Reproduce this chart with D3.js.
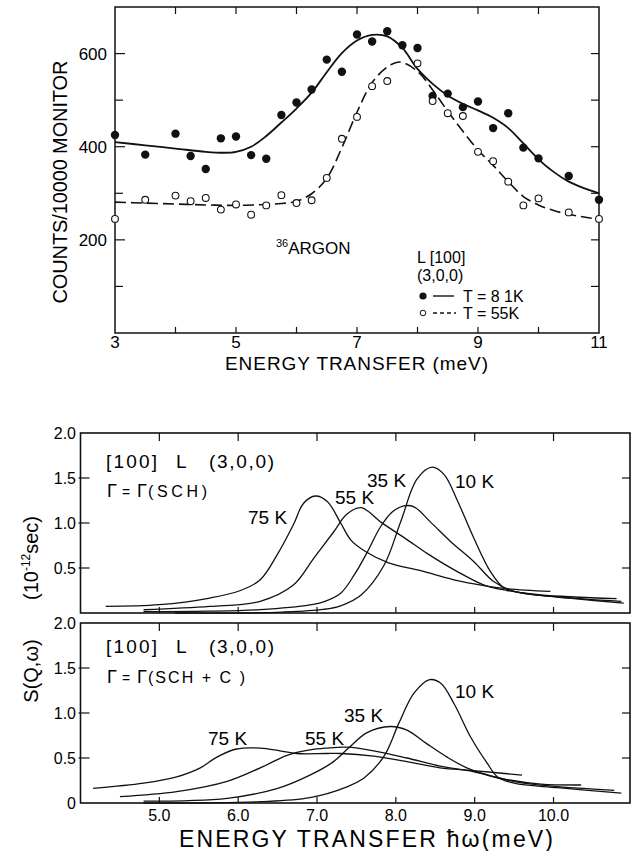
<!DOCTYPE html>
<html>
<head>
<meta charset="utf-8">
<script src="https://cdn.jsdelivr.net/npm/d3@7"></script>
<style>
  body { margin: 0; background: #fff; }
  svg { display: block; font-family: "Liberation Sans", Arial, sans-serif; }
</style>
</head>
<body>
<div id="chart"></div>
<script>
// ---- top chart: 36Ar, L[100] (3,0,0) ----
const energy81 = [3.0,3.5,4.0,4.25,4.5,4.75,5.0,5.25,5.5,5.75,6.0,6.25,6.5,6.75,7.0,7.25,7.5,7.75,8.0,8.25,8.5,8.75,9.0,9.25,9.5,9.75,10.0,10.5,11.0];
const counts81 = [425,383,428,380,352,418,422,382,374,468,495,523,587,561,641,626,648,618,612,509,514,485,497,440,472,398,375,337,286];
const energy55 = [3.0,3.5,4.0,4.25,4.5,4.75,5.0,5.25,5.5,5.75,6.0,6.25,6.5,6.75,7.0,7.25,7.5,8.0,8.25,8.5,8.75,9.0,9.25,9.5,9.75,10.0,10.5,11.0];
const counts55 = [245,286,295,283,290,265,276,254,274,296,279,285,333,417,464,530,541,579,498,472,466,389,369,325,274,289,259,245];

const fitE81 = [3.0,3.5,4.0,4.5,4.8,5.0,5.25,5.5,5.75,6.0,6.25,6.5,6.75,7.0,7.25,7.5,7.75,8.0,8.25,8.5,8.75,9.0,9.25,9.5,9.75,10.0,10.25,10.5,10.75,11.0];
const fit81  = [410,403,396,389,387,389,400,423,452,482,516,560,601,628,640,637,612,567,535,510,492,478,462,440,407,373,346,325,311,300];
const fitE55 = [3.0,3.5,4.0,4.5,5.0,5.5,5.75,6.0,6.25,6.5,6.75,7.0,7.25,7.5,7.65,7.75,8.0,8.25,8.5,8.75,9.0,9.25,9.5,9.75,10.0,10.25,10.5,10.75,11.0];
const fit55  = [281,279,277,275,274,276,278,283,299,332,398,474,538,571,581,581,562,522,476,433,393,360,325,293,275,263,255,249,244];

const topYTicks = [200,400,600];
const topXTicks = [3,5,7,9,11];

// ---- bottom panels: S(Q,w) calculated, [100] L (3,0,0) ----
const tempLabels = ["75 K","55 K","35 K","10 K"];
// Gamma = Gamma(SCH)
const sch75E = [4.32,5.0,5.64,6.03,6.28,6.49,6.70,6.83,6.98,7.13,7.30,7.43,7.62,7.9,8.36,8.78,9.08,9.41,9.96];
const sch75  = [0.073,0.092,0.166,0.25,0.37,0.64,0.98,1.22,1.30,1.24,1.0,0.81,0.68,0.56,0.46,0.36,0.31,0.27,0.24];
const sch55E = [4.8,5.64,6.28,6.70,6.96,7.21,7.38,7.56,7.81,8.15,8.40,8.78,9.12,9.41,9.84,10.8];
const sch55  = [0.036,0.073,0.13,0.31,0.61,0.90,1.10,1.17,1.01,0.81,0.66,0.46,0.31,0.25,0.20,0.16];
const sch35E = [4.8,5.6,6.28,6.91,7.1,7.3,7.47,7.64,7.8,7.95,8.1,8.23,8.44,8.70,8.99,9.24,9.5,10.05,10.86];
const sch35  = [0.015,0.02,0.037,0.09,0.13,0.22,0.42,0.68,0.95,1.12,1.19,1.18,1.01,0.79,0.57,0.35,0.24,0.18,0.13];
const sch10E = [5.2,6.0,6.56,7.08,7.3,7.56,7.85,8.06,8.27,8.46,8.61,8.78,8.99,9.2,9.37,9.62,10.26,10.89];
const sch10  = [0.0,0.0,0.01,0.04,0.08,0.20,0.53,1.01,1.49,1.62,1.54,1.25,0.83,0.46,0.28,0.22,0.16,0.11];
// Gamma = Gamma(SCH+C)
const c75E = [4.16,4.8,5.22,5.52,5.73,5.98,6.28,6.53,6.74,7.12,7.3,7.72,8.14,8.56,8.98,9.6];
const c75  = [0.163,0.22,0.29,0.39,0.51,0.60,0.61,0.58,0.55,0.55,0.55,0.52,0.46,0.39,0.36,0.31];
const c55E = [4.5,5.22,5.86,6.28,6.62,6.91,7.12,7.38,7.72,8.14,8.56,8.98,9.41,9.84,10.35];
const c55  = [0.07,0.126,0.24,0.39,0.53,0.59,0.61,0.62,0.58,0.50,0.41,0.35,0.26,0.21,0.20];
const c35E = [4.8,5.86,6.49,6.91,7.21,7.4,7.63,7.93,8.14,8.39,8.65,8.9,9.2,9.62,10.77];
const c35  = [0.02,0.052,0.16,0.31,0.46,0.61,0.78,0.85,0.81,0.66,0.51,0.39,0.30,0.22,0.14];
const c10E = [4.8,6.28,6.91,7.38,7.6,7.85,8.04,8.23,8.43,8.57,8.74,8.95,9.16,9.29,9.5,10.05,10.86];
const c10  = [0.0,0.015,0.06,0.18,0.28,0.52,0.89,1.22,1.37,1.33,1.10,0.73,0.44,0.29,0.22,0.17,0.11];

const botXTicks = [5,6,7,8,9,10];
const botYTicks = [0.5,1.0,1.5,2.0];

const svg = d3.select("#chart").append("svg")
    .attr("width", 632).attr("height", 851)
    .attr("viewBox", "0 0 632 851");

const zip = (xs, ys) => xs.map((x, i) => [x, ys[i]]);

// ================= top chart =================
const xT = d3.scaleLinear().domain([3, 11]).range([115, 599]);
const yT = d3.scaleLinear().domain([0, 700]).range([333, 7]);

const topG = svg.append("g");
topG.append("rect")
    .attr("x", xT(3)).attr("y", yT(700))
    .attr("width", xT(11) - xT(3)).attr("height", yT(0) - yT(700))
    .attr("fill", "none").attr("stroke", "#111").attr("stroke-width", 1.5);

// inward ticks
d3.range(100, 700, 100).forEach(v => {
    const len = (v % 200 == 0) ? 10 : 8;
    topG.append("line").attr("x1", xT(3)).attr("x2", xT(3) + len)
	.attr("y1", yT(v)).attr("y2", yT(v)).attr("stroke", "#111").attr("stroke-width", 1.2);
    topG.append("line").attr("x1", xT(11)).attr("x2", xT(11) - 8)
	.attr("y1", yT(v)).attr("y2", yT(v)).attr("stroke", "#111").attr("stroke-width", 1.2);
});
d3.range(4, 11).forEach(e => {
    topG.append("line").attr("x1", xT(e)).attr("x2", xT(e))
	.attr("y1", yT(700)).attr("y2", yT(700) + 7).attr("stroke", "#111").attr("stroke-width", 1.2);
    topG.append("line").attr("x1", xT(e)).attr("x2", xT(e))
	.attr("y1", yT(0)).attr("y2", yT(0) - 6).attr("stroke", "#111").attr("stroke-width", 1.2);
});

topG.selectAll("text.ylab").data(topYTicks).enter().append("text")
    .attr("x", 107).attr("y", d => yT(d) + 6)
    .attr("text-anchor", "end").attr("font-size", 17).text(d => d);
topG.selectAll("text.xlab").data(topXTicks).enter().append("text")
    .attr("x", d => xT(d)).attr("y", 348)
    .attr("text-anchor", "middle").attr("font-size", 17).text(d => d);

topG.append("text").attr("x", 225).attr("y", 370)
    .attr("font-size", 19).attr("textLength", 263).attr("lengthAdjust", "spacing")
    .text("ENERGY TRANSFER (meV)");
topG.append("text").attr("transform", "translate(67,182) rotate(-90)")
    .attr("text-anchor", "middle").attr("font-size", 20)
    .attr("textLength", 243).attr("lengthAdjust", "spacing")
    .text("COUNTS/10000 MONITOR");

const smooth = d3.line().x(d => xT(d[0])).y(d => yT(d[1])).curve(d3.curveCatmullRom.alpha(0.5));
topG.append("path").attr("d", smooth(zip(fitE81, fit81)))
    .attr("fill", "none").attr("stroke", "#111").attr("stroke-width", 1.8);
topG.append("path").attr("d", smooth(zip(fitE55, fit55)))
    .attr("fill", "none").attr("stroke", "#111").attr("stroke-width", 1.6)
    .attr("stroke-dasharray", "11,5");

topG.selectAll("circle.t81").data(zip(energy81, counts81)).enter().append("circle")
    .attr("cx", d => xT(d[0])).attr("cy", d => yT(d[1])).attr("r", 4.2).attr("fill", "#111");
topG.selectAll("circle.t55").data(zip(energy55, counts55)).enter().append("circle")
    .attr("cx", d => xT(d[0])).attr("cy", d => yT(d[1])).attr("r", 3.4)
    .attr("fill", "#fff").attr("stroke", "#111").attr("stroke-width", 1.1);

const argon = topG.append("text").attr("x", 276).attr("y", 254).attr("font-size", 17);
argon.append("tspan").attr("font-size", 11).attr("dy", -7).text("36");
argon.append("tspan").attr("dy", 7).text("ARGON");

// legend
topG.append("text").attr("x", 417).attr("y", 263).attr("font-size", 16).text("L [100]");
topG.append("text").attr("x", 417).attr("y", 281).attr("font-size", 16).text("(3,0,0)");
topG.append("circle").attr("cx", 423).attr("cy", 296).attr("r", 3.6).attr("fill", "#111");
topG.append("line").attr("x1", 433).attr("x2", 454).attr("y1", 296).attr("y2", 296)
    .attr("stroke", "#111").attr("stroke-width", 1.4);
topG.append("text").attr("x", 463).attr("y", 302).attr("font-size", 16).text("T = 8 1K");
topG.append("circle").attr("cx", 423).attr("cy", 313).attr("r", 2.8)
    .attr("fill", "#fff").attr("stroke", "#111").attr("stroke-width", 1);
topG.append("line").attr("x1", 433).attr("x2", 456).attr("y1", 313).attr("y2", 313)
    .attr("stroke", "#111").attr("stroke-width", 1.4).attr("stroke-dasharray", "4,3");
topG.append("text").attr("x", 463).attr("y", 319).attr("font-size", 16).text("T = 55K");

// ================= bottom panels =================
const xB = d3.scaleLinear().domain([4, 10.97]).range([80.5, 630]);

// pieces: [text, x, width, fontSize]
function annot(g, y, pieces) {
    pieces.forEach(p => {
	g.append("text").attr("x", p[1]).attr("y", y).attr("font-size", p[3])
	    .attr("textLength", p[2]).attr("lengthAdjust", "spacing").text(p[0]);
    });
}

function panel(y0, y1, curves, labels, line1Y, line2Y, line2Text, line2W, showZero) {
    const yB = d3.scaleLinear().domain([0, 2]).range([y0, y1]);
    const g = svg.append("g");
    g.append("rect").attr("x", xB(4)).attr("y", yB(2))
	.attr("width", xB(10.97) - xB(4)).attr("height", yB(0) - yB(2))
	.attr("fill", "none").attr("stroke", "#111").attr("stroke-width", 1.6);
    botXTicks.forEach(e => {
	g.append("line").attr("x1", xB(e)).attr("x2", xB(e)).attr("y1", yB(2)).attr("y2", yB(2) + 8)
	    .attr("stroke", "#111").attr("stroke-width", 1.2);
	g.append("line").attr("x1", xB(e)).attr("x2", xB(e)).attr("y1", yB(0)).attr("y2", yB(0) - 6)
	    .attr("stroke", "#111").attr("stroke-width", 1.2);
    });
    [0.5, 1.0, 1.5].forEach(v => {
	g.append("line").attr("x1", xB(4) - 2).attr("x2", xB(4) + 9).attr("y1", yB(v)).attr("y2", yB(v))
	    .attr("stroke", "#111").attr("stroke-width", 1.2);
	g.append("line").attr("x1", xB(10.97)).attr("x2", xB(10.97) - 8).attr("y1", yB(v)).attr("y2", yB(v))
	    .attr("stroke", "#111").attr("stroke-width", 1.2);
    });
    const yl = showZero ? [0].concat(botYTicks) : botYTicks;
    g.selectAll("text.yl").data(yl).enter().append("text")
	.attr("x", 76).attr("y", d => yB(d) + 6).attr("text-anchor", "end")
	.attr("font-size", 16).text(d => d == 0 ? "0" : d.toFixed(1));

    const line = d3.line().x(d => xB(d[0])).y(d => yB(d[1])).curve(d3.curveCatmullRom.alpha(0.5));
    curves.forEach(c => {
	g.append("path").attr("d", line(c)).attr("fill", "none")
	    .attr("stroke", "#111").attr("stroke-width", 1.3);
    });
    labels.forEach(l => {
	g.append("text").attr("x", l[0]).attr("y", l[1]).attr("font-size", 19).text(l[2]);
    });
    annot(g, line1Y, [["[100]", 106, 51, 19], ["L", 176, 11, 19], ["(3,0,0)", 209, 65, 19]]);
    annot(g, line2Y, [["Γ", 107, 9, 18], ["=", 122, 8, 14], ["Γ", 137, 9, 18], [line2Text, 148, line2W, 16]]);
    return g;
}

panel(613, 433,
      [zip(sch75E, sch75), zip(sch55E, sch55), zip(sch35E, sch35), zip(sch10E, sch10)],
      [[248, 524, tempLabels[0]], [335, 504, tempLabels[1]], [367, 487, tempLabels[2]], [455, 488, tempLabels[3]]],
      468, 497, "(SCH)", 59, false);

panel(803, 623,
      [zip(c75E, c75), zip(c55E, c55), zip(c35E, c35), zip(c10E, c10)],
      [[208, 745, tempLabels[0]], [305, 745, tempLabels[1]], [344, 722, tempLabels[2]], [455, 698, tempLabels[3]]],
      653, 683, "(SCH + C )", 97, true);

svg.selectAll("text.bx").data(botXTicks).enter().append("text")
    .attr("x", d => xB(d)).attr("y", 821).attr("text-anchor", "middle")
    .attr("font-size", 16).text(d => d.toFixed(1));

svg.append("text").attr("x", 179).attr("y", 847).attr("font-size", 23)
    .attr("textLength", 374).attr("lengthAdjust", "spacing")
    .text("ENERGY  TRANSFER  ħω(meV)");

const yt1 = svg.append("text").attr("transform", "translate(38,558) rotate(-90)")
    .attr("text-anchor", "middle").attr("font-size", 20);
yt1.append("tspan").text("(10");
yt1.append("tspan").attr("font-size", 12).attr("dy", -8).text("-12");
yt1.append("tspan").attr("dy", 8).text("sec)");
svg.append("text").attr("transform", "translate(38,671) rotate(-90)")
    .attr("text-anchor", "middle").attr("font-size", 20).text("S(Q,ω)");
</script>
</body>
</html>
